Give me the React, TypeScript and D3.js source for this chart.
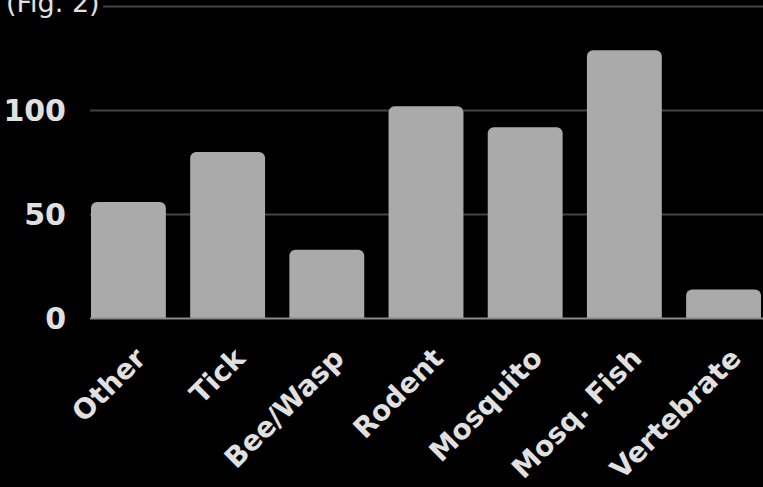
import React from "react";
import * as d3 from "d3";

const categories = ["Other", "Tick", "Bee/Wasp", "Rodent", "Mosquito", "Mosq. Fish", "Vertebrate"];
const values = [56, 80, 33, 102, 92, 129, 14];
const yTicks = [0, 50, 100, 150];
const yTickLabels = ["0", "50", "100", ""];
const title = "(Fig. 2)";

const W = 763;
const H = 487;
const FONT = "'DejaVu Sans', sans-serif";

function topRoundedRect(x: number, y: number, w: number, h: number, r: number) {
  const rr = Math.min(r, h, w / 2);
  const p = d3.path();
  p.moveTo(x, y + h);
  p.lineTo(x, y + rr);
  p.arcTo(x, y, x + rr, y, rr);
  p.lineTo(x + w - rr, y);
  p.arcTo(x + w, y, x + w, y + rr, rr);
  p.lineTo(x + w, y + h);
  p.closePath();
  return p.toString();
}

export default function App() {
  React.useEffect(() => {
    document.body.style.margin = "0";
    document.body.style.background = "#000";
  }, []);

  const x = d3.scaleBand<string>().domain(categories).range([90, 762]).paddingInner(0.245).paddingOuter(0.01);
  const y = d3.scaleLinear().domain([0, 150]).range([318.5, 6.5]);

  return (
    <svg width={W} height={H} style={{ display: "block", background: "#000" }}>
      <rect x={0} y={0} width={W} height={H} fill="#000" />
      {yTicks.map((t) =>
        t === 0 ? null : (
          <line key={t} x1={90} x2={W} y1={y(t)} y2={y(t)} stroke="#444" strokeWidth={2} />
        )
      )}
      {categories.map((c, i) => (
        <path
          key={c}
          d={topRoundedRect(x(c)!, y(values[i]), x.bandwidth(), y(0) - y(values[i]), 6)}
          fill="#aaaaaa"
        />
      ))}
      <line x1={90} x2={W} y1={y(0)} y2={y(0)} stroke="#8a8a8a" strokeWidth={2} />
      {yTicks.map((t, i) =>
        yTickLabels[i] ? (
          <text
            key={t}
            x={66}
            y={y(t)}
            textAnchor="end"
            dominantBaseline="central"
            fill="#e0e0e0"
            fontFamily={FONT}
            fontWeight="bold"
            fontSize={30}
          >
            {yTickLabels[i]}
          </text>
        ) : null
      )}
      {categories.map((c) => {
        const cx = x(c)! + x.bandwidth() / 2;
        const px = cx + 19;
        const py = 360;
        return (
          <text
            key={c}
            x={px}
            y={py}
            textAnchor="end"
            transform={`rotate(-45 ${px} ${py})`}
            fill="#e0e0e0"
            fontFamily={FONT}
            fontWeight="bold"
            fontSize={28}
          >
            {c}
          </text>
        );
      })}
      <rect x={0} y={0} width={103} height={14} fill="#000" />
      <text x={6} y={12} fill="#e0e0e0" fontFamily={FONT} fontSize={27}>
        {title}
      </text>
    </svg>
  );
}
